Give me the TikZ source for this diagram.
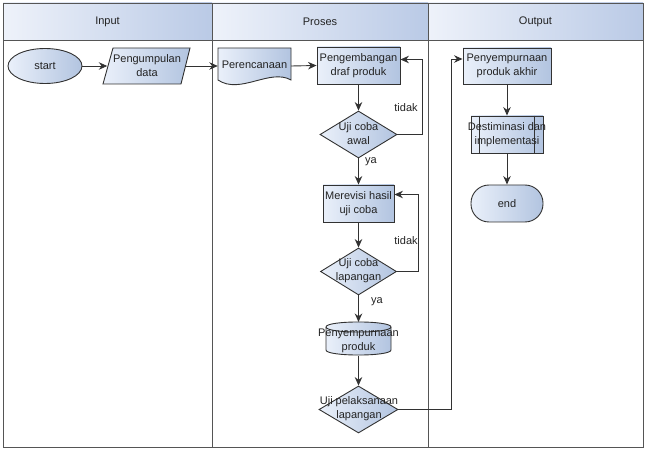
\documentclass[tikz,border=0pt]{standalone}
\usepackage{fontspec}
\setmainfont{Liberation Sans}
\usetikzlibrary{arrows.meta,shapes.geometric,calc}
\definecolor{fillA}{RGB}{234,240,250}
\definecolor{fillB}{RGB}{178,196,224}
\definecolor{hdA}{RGB}{238,242,250}
\definecolor{hdB}{RGB}{186,202,230}
\definecolor{lineC}{RGB}{50,50,50}
\definecolor{frameC}{RGB}{85,85,85}
\definecolor{textC}{RGB}{35,35,35}
\newcommand\myfs{\fontsize{11}{14}\selectfont}
\tikzset{
  shp/.style={draw=lineC, line width=0.9pt, left color=fillA, right color=fillB},
  ghost/.style={inner sep=0pt, minimum width=#1},
  arr/.style={draw=lineC, line width=0.9pt, -{Stealth[length=8.5pt,width=7.5pt]}},
  ln/.style={draw=lineC, line width=0.9pt},
  txt/.style={font=\myfs, text=textC, align=center, inner sep=0pt},
  dia/.style={shape=diamond, shp, inner sep=0pt, minimum width=#1}
}
\begin{document}
\begin{tikzpicture}[x=1pt,y=-1pt]
\useasboundingbox (0,0) rectangle (646,449);
% header
\shade[left color=hdA,right color=hdB] (3,3) rectangle (212,40);
\shade[left color=hdA,right color=hdB] (212,3) rectangle (428,40);
\shade[left color=hdA,right color=hdB] (428,3) rectangle (643,40);
\draw[frameC, line width=0.9pt] (3,3) rectangle (643,447);
\draw[frameC, line width=0.9pt] (3,40) -- (643,40);
\draw[frameC, line width=0.9pt] (212,3) -- (212,447);
\draw[frameC, line width=0.9pt] (428,3) -- (428,447);
\node[txt] (hin) at (107.5,22) {Input};
\node[txt] (hpr) at (320,22) {Proses};
\node[txt] (hout) at (535.5,22) {Output};

% start
\node[shape=ellipse, shp, inner sep=0pt, minimum width=74pt, minimum height=35pt] (start) at (45,66) {};
\node[txt] (startt) at (start) {start};

% Pengumpulan data (parallelogram)
\path[shp] (113,48) -- (190,48) -- (181,84) -- (103,84) -- cycle;
\node[ghost=78pt, minimum height=36pt] (pg) at (146.5,66) {};
\node[txt] (pgt) at (147,66) {Pengumpulan\\data};

% Perencanaan (document)
\path[shp] (218,48) -- (291,48) -- (291,80) .. controls (270,68) and (240,95) .. (218,80) -- cycle;
\node[ghost=73pt, minimum height=36pt] (per) at (254.5,66) {};
\node[txt] (pert) at (254.5,65) {Perencanaan};

% Pengembangan draf produk
\node[shape=rectangle, shp, inner sep=0pt, minimum width=83pt, minimum height=37pt] (dev) at (358.5,65.5) {};
\node[txt] (devt) at (dev) {Pengembangan\\draf produk};

% Uji coba awal
\node[dia=77pt, minimum height=47pt] (d1) at (358.5,134.5) {};
\node[txt] (d1t) at (358.5,134) {Uji coba\\awal};

% Merevisi hasil uji coba
\node[shape=rectangle, shp, inner sep=0pt, minimum width=71pt, minimum height=37pt] (rev) at (358.5,203.5) {};
\node[txt] (revt) at (rev) {Merevisi hasil\\uji coba};

% Uji coba lapangan
\node[dia=76pt, minimum height=47pt] (d2) at (358.5,271.5) {};
\node[txt] (d2t) at (358.5,271) {Uji coba\\lapangan};

% Penyempurnaan produk (cylinder)
\path[shp] (326,327) -- (326,350) .. controls (326,356.7) and (391,356.7) .. (391,350) -- (391,327) .. controls (391,320.3) and (326,320.3) .. (326,327) -- cycle;
\draw[ln] (326,327) .. controls (326,333.7) and (391,333.7) .. (391,327);
\node[ghost=65pt, minimum height=34pt] (cyl) at (358.5,339) {};
\node[txt] (cylt) at (358.5,340.5) {Penyempurnaan\\produk};

% Uji pelaksanaan lapangan
\node[dia=79pt, minimum height=47pt] (d3) at (358.5,409.5) {};
\node[txt] (d3t) at (359,409) {Uji pelaksanaan\\lapangan};

% Penyempurnaan produk akhir
\node[shape=rectangle, shp, inner sep=0pt, minimum width=88pt, minimum height=36pt] (akh) at (507,66) {};
\node[txt] (akht) at (akh) {Penyempurnaan\\produk akhir};

% Destiminasi dan implementasi (predefined process)
\node[shape=rectangle, shp, inner sep=0pt, minimum width=72pt, minimum height=37pt] (des) at (507,134.5) {};
\draw[ln] ([xshift=9pt]des.north west) -- ([xshift=9pt]des.south west);
\draw[ln] ([xshift=-9pt]des.north east) -- ([xshift=-9pt]des.south east);
\node[txt] (dest) at (507,134.5) {Destiminasi dan\\implementasi};

% end
\node[shape=rectangle, shp, rounded corners=18pt, inner sep=0pt, minimum width=72pt, minimum height=37pt] (endn) at (507,203.5) {};
\node[txt] (endt) at (endn) {end};

% connectors
\draw[arr] (start.east) -- (pg.west);
\draw[arr] (pg.east) -- (per.west);
\draw[arr] (per.east) -- (dev.west);
\draw[arr] (dev.south) -- (d1.north);
\draw[arr] (d1.east) -- ++(25,0) |- ([yshift=6pt]dev.east);
\draw[arr] (d1.south) -- (rev.north);
\draw[arr] (rev.south) -- (d2.north);
\draw[arr] (d2.east) -- ++(21,0) |- ([yshift=9pt]rev.east);
\draw[arr] (d2.south) -- (358.5,322);
\draw[arr] (cyl.south) -- (d3.north);
\draw[arr] (d3.east) -- (451,409.5) |- ([yshift=7pt]akh.west);
\draw[arr] (akh.south) -- (des.north);
\draw[arr] (des.south) -- (endn.north);

% labels
\node[txt] (t1) at (406,108) {tidak};
\node[txt] (t2) at (406,241) {tidak};
\node[txt] (y1) at (371,162) {ya};
\node[txt] (y2) at (377,302) {ya};
\end{tikzpicture}
\end{document}
